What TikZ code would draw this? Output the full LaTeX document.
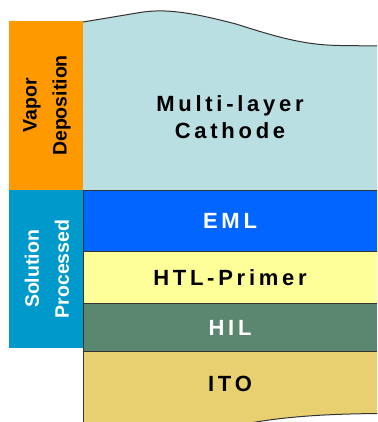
\documentclass[tikz,border=0pt]{standalone}
\usepackage{fontspec}
\setmainfont{Liberation Sans}
\newfontfamily\spaced[LetterSpace=17]{Liberation Sans}
\definecolor{vapor}{HTML}{FF9900}
\definecolor{solution}{HTML}{0099CC}
\definecolor{cathode}{HTML}{B9DFE2}
\definecolor{eml}{HTML}{0066FF}
\definecolor{htl}{HTML}{FFFF99}
\definecolor{hil}{HTML}{5B8770}
\definecolor{ito}{HTML}{E8D070}
\definecolor{edge}{HTML}{333333}
\begin{document}
\begin{tikzpicture}[x=1pt,y=-1pt,
  edgeline/.style={draw=edge,line width=1pt},
  layerlabel/.style={font=\spaced\bfseries\fontsize{22}{26}\selectfont,inner sep=0pt,anchor=center},
  sidelabel/.style={font=\bfseries\fontsize{19.5}{30}\selectfont,align=center,rotate=90,inner sep=0pt}]
\useasboundingbox (0,0) rectangle (377,422);
% cathode
\fill[cathode] (83,22) -- (140,12.5) .. controls (165,8.5) and (190,12) .. (236,24) .. controls (280,38) and (305,45) .. (340,45.5) -- (377,46) -- (377,190) -- (83,190) -- cycle;
\draw[edgeline] (83,22) -- (140,12.5) .. controls (165,8.5) and (190,12) .. (236,24) .. controls (280,38) and (305,45) .. (340,45.5) -- (377,46);
% layers
\fill[eml] (83,190) rectangle (377,251);
\fill[htl] (83,251) rectangle (377,303);
\fill[hil] (83,303) rectangle (377,351.5);
\fill[ito] (83,351.5) rectangle (377,422);
\fill[white] (250,423) .. controls (290,416) and (330,414) .. (377,413.5) -- (377,423) -- cycle;
\draw[edgeline] (250,423) .. controls (290,416) and (330,414) .. (377,413.5);
\foreach \yy in {190,251,303,351.5} \draw[edgeline] (83,\yy) -- (377,\yy);
\draw[edgeline] (83,190) -- (83,423);
% side boxes
\fill[vapor] (9,21) rectangle (83,190);
\fill[solution] (9,190) rectangle (83,348);
\node[sidelabel,text=black] (vd) at (47,105.5) {Vapor\\Deposition};
\node[sidelabel,text=white] (sp) at (47,269) {Solution\\Processed};
% layer labels
\node[layerlabel,align=center,font=\spaced\bfseries\fontsize{22}{27}\selectfont] (cath) at (230,117) {Multi-layer\\Cathode};
\node[layerlabel,text=white] (emlt) at (230,221) {EML};
\node[layerlabel] (htlt) at (230,277.5) {HTL-Primer};
\node[layerlabel,text=white] (hilt) at (230,327.5) {HIL};
\node[layerlabel] (itot) at (230,384) {ITO};
\end{tikzpicture}
\end{document}
